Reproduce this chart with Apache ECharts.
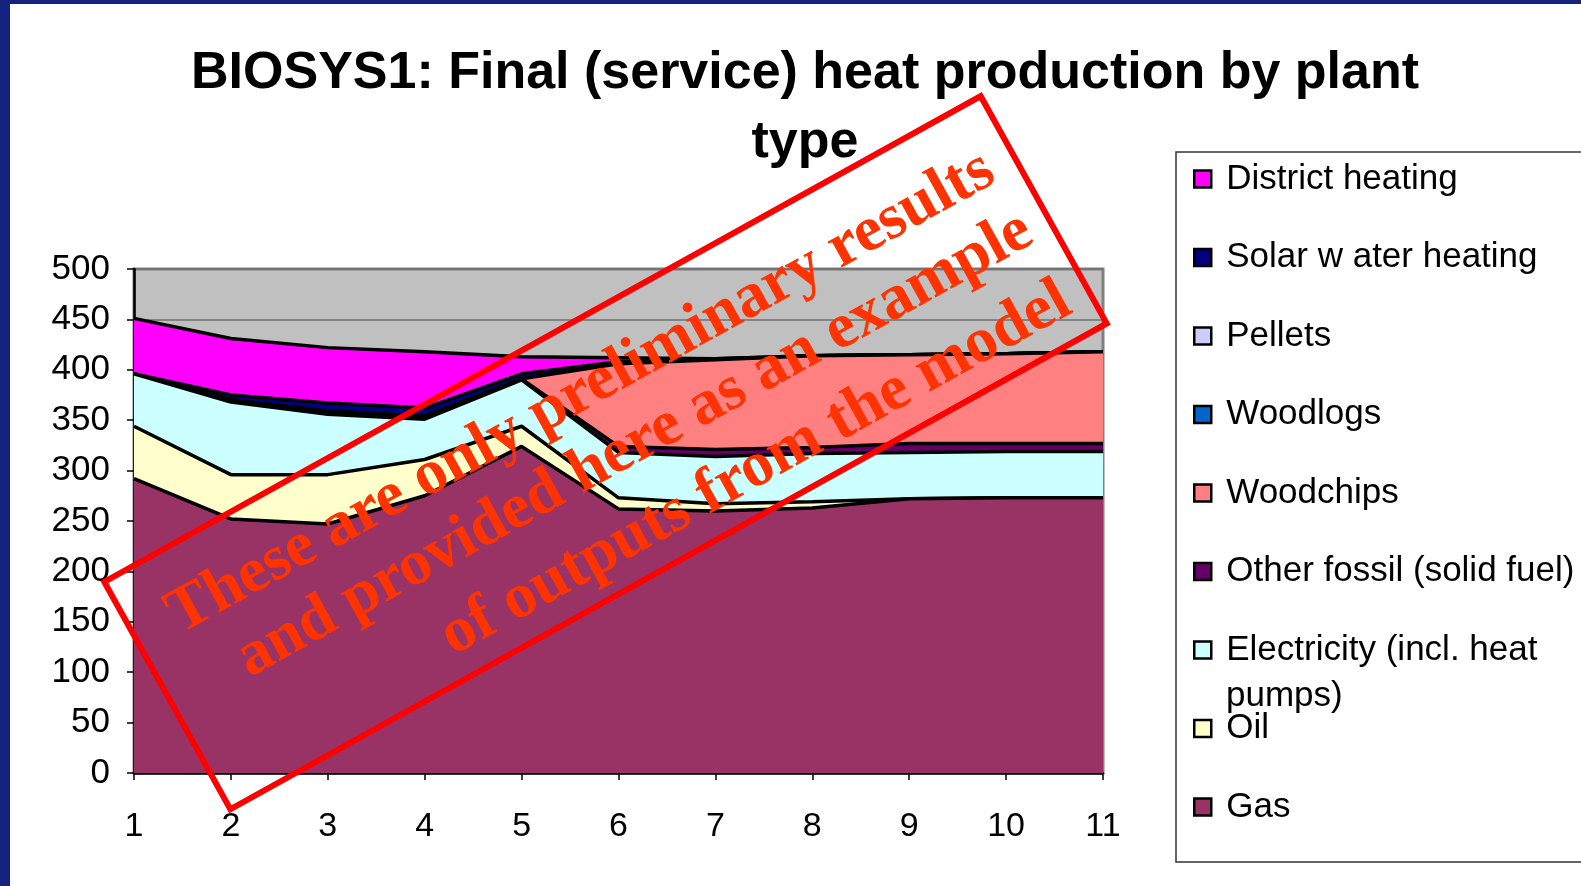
<!DOCTYPE html>
<html lang="en">
<head>
<meta charset="UTF-8">
<title>BIOSYS1 heat production</title>
<script src="https://cdn.jsdelivr.net/npm/echarts@6/dist/echarts.min.js"></script>
<style>
  html, body { margin: 0; padding: 0; background: #13237f; }
  #main { position: absolute; left: 10px; top: 4px; width: 1571px; height: 882px; background: #fff; }
</style>
</head>
<body>
<div id="main"></div>
<script>
// x categories (years / periods)
var periods = ['1', '2', '3', '4', '5', '6', '7', '8', '9', '10', '11'];

// stacked values, bottom to top
var gas         = [292, 252, 247, 275, 324, 262, 260, 263, 272, 273, 273];
var oil         = [52, 44, 49, 36, 20, 11, 7, 6, 0, 0, 0];
var electricity = [52, 72, 60, 40, 46, 45, 47, 48, 46, 46, 46];
var otherFossil = [0, 2, 3, 3, 1, 6, 7, 6, 9, 8, 8];
var woodchips   = [0, 0, 0, 0, 0, 82, 89, 91, 88, 89, 91];
var woodlogs    = [0, 0, 0, 0, 0, 0, 0, 0, 0, 0, 0];
var pellets     = [0, 0, 0, 0, 0, 0, 0, 0, 0, 0, 0];
var solar       = [0, 5, 8, 8, 5, 2, 1, 0, 0, 0, 0];
var district    = [55, 56, 55, 56, 17, 4, 0, 0, 0, 0, 0];

var seriesNames = ['Gas', 'Oil', 'Electricity (incl. heat pumps)', 'Other fossil (solid fuel)',
  'Woodchips', 'Woodlogs', 'Pellets', 'Solar w ater heating', 'District heating'];
var seriesData = [gas, oil, electricity, otherFossil, woodchips, woodlogs, pellets, solar, district];
var seriesColors = ['#993366', '#FFFFCC', '#CCFFFF', '#660066', '#FF8080', '#0066CC', '#CCCCFF', '#000080', '#FF00FF'];

var yTicks = { min: 0, max: 500, interval: 50 };

var FONT = '"Liberation Sans", Arial, sans-serif';
var SERIF = '"Liberation Serif", "Times New Roman", serif';
var ANG = 29 * Math.PI / 180;

var chart = echarts.init(document.getElementById('main'));

var series = [];
for (var i = 0; i < seriesData.length; i++) {
  series.push({
    name: seriesNames[i],
    type: 'line',
    stack: 'total',
    data: seriesData[i],
    z: 20 - i,
    showSymbol: false,
    symbol: 'none',
    silent: true,
    itemStyle: { color: seriesColors[i] },
    lineStyle: { color: '#000', width: 3.5 },
    areaStyle: { color: seriesColors[i], opacity: 1 },
    emphasis: { disabled: true }
  });
}

var option = {
  animation: false,
  title: {
    text: 'BIOSYS1: Final (service) heat production by plant\ntype',
    left: 790,
    top: 30,
    textAlign: 'center',
    textStyle: { fontFamily: FONT, fontSize: 52, fontWeight: 'bold', color: '#000', lineHeight: 69 }
  },
  grid: {
    left: 124, right: 478, top: 265, bottom: 113,
    show: true,
    backgroundColor: '#C0C0C0',
    borderColor: '#808080',
    borderWidth: 3
  },
  legend: {
    orient: 'vertical',
    left: 1183,
    top: 157,
    padding: 0,
    itemWidth: 17,
    itemHeight: 17,
    itemGap: 42.5,
    icon: 'rect',
    itemStyle: { borderColor: '#000', borderWidth: 2.5 },
    selectedMode: false,
    data: ['District heating', 'Solar w ater heating', 'Pellets', 'Woodlogs', 'Woodchips',
      'Other fossil (solid fuel)', 'Electricity (incl. heat pumps)', 'Oil', 'Gas'],
    formatter: function (name) {
      return name === 'Electricity (incl. heat pumps)' ? 'Electricity (incl. heat' : name;
    },
    textStyle: { fontFamily: FONT, fontSize: 35, color: '#000', lineHeight: 36, padding: [0, 0, 0, 10] }
  },
  xAxis: {
    type: 'category',
    data: periods,
    boundaryGap: false,
    axisLine: { show: true, lineStyle: { color: '#000', width: 2.5 } },
    axisTick: { show: true, length: 7, interval: 0, lineStyle: { color: '#000', width: 1.5 } },
    axisLabel: { interval: 0, margin: 37, fontFamily: FONT, fontSize: 34, color: '#000' },
    splitLine: { show: false }
  },
  yAxis: {
    type: 'value',
    min: yTicks.min,
    max: yTicks.max,
    interval: yTicks.interval,
    axisLine: { show: true, lineStyle: { color: '#000', width: 2.5 } },
    axisTick: { show: true, length: 7, lineStyle: { color: '#000', width: 1.5 } },
    axisLabel: { margin: 24, fontFamily: FONT, fontSize: 35, color: '#000' },
    splitLine: { show: true, lineStyle: { color: '#707070', width: 1.5 } }
  },
  series: series,
  graphic: [
    // legend frame
    {
      type: 'rect', z: 50, silent: true,
      shape: { x: 1166, y: 148, width: 500, height: 710 },
      style: { fill: null, stroke: '#333', lineWidth: 1.5 }
    },
    // second line of the wrapped legend label
    {
      type: 'text', z: 50, silent: true,
      x: 1216, y: 692,
      style: { text: 'pumps)', font: '35px ' + FONT, fill: '#000', align: 'left', verticalAlign: 'middle',
        textAlign: 'left', textVerticalAlign: 'middle' }
    },
    // watermark box
    {
      type: 'rect', z: 100, silent: true,
      x: 595.5, y: 448.7, rotation: ANG,
      shape: { x: -501, y: -130, width: 1002, height: 260 },
      style: { fill: null, stroke: '#FF0000', lineWidth: 6 }
    },
    {
      type: 'text', z: 101, silent: true,
      x: 571, y: 389, rotation: ANG,
      style: { text: 'These are only preliminary results', font: 'bold 64px ' + SERIF, fill: '#FF3300',
        align: 'center', verticalAlign: 'middle', textAlign: 'center', textVerticalAlign: 'middle' }
    },
    {
      type: 'text', z: 101, silent: true,
      x: 625, y: 441, rotation: ANG,
      style: { text: 'and provided here as an example', font: 'bold 64px ' + SERIF, fill: '#FF3300',
        align: 'center', verticalAlign: 'middle', textAlign: 'center', textVerticalAlign: 'middle' }
    },
    {
      type: 'text', z: 101, silent: true,
      x: 746, y: 465, rotation: ANG,
      style: { text: 'of outputs from the model', font: 'bold 64px ' + SERIF, fill: '#FF3300',
        align: 'center', verticalAlign: 'middle', textAlign: 'center', textVerticalAlign: 'middle' }
    }
  ]
};

chart.setOption(option);
window.onresize = function () {
  chart.resize();
};
</script>
</body>
</html>
